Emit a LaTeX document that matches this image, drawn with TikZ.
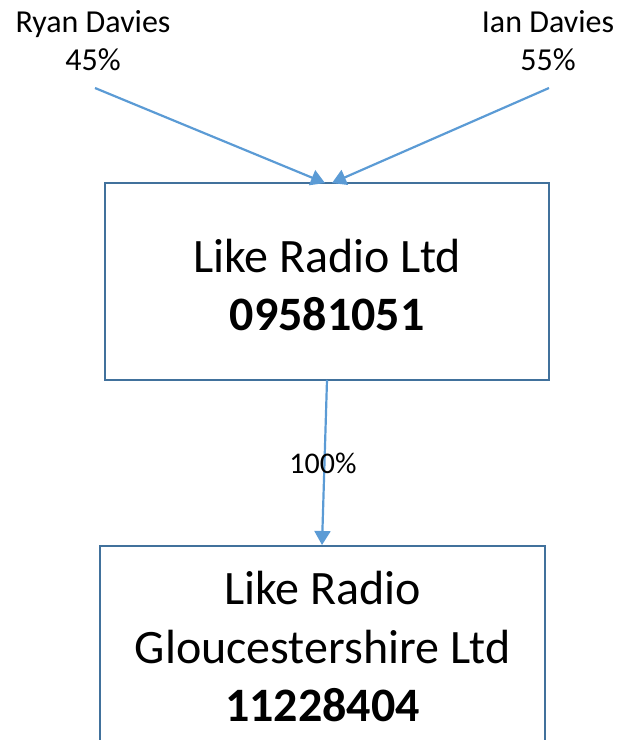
\documentclass[tikz,border=0pt]{standalone}
\usepackage{fontspec}
\setmainfont{Carlito}
\usetikzlibrary{arrows.meta}
\definecolor{linkblue}{HTML}{5B9BD5}
\definecolor{boxblue}{HTML}{41719C}
\tikzset{
  box/.style={draw=boxblue, line width=2.4pt, rectangle, inner sep=0pt},
  link/.style={draw=linkblue, line width=2.2pt, -{Triangle[length=14pt,width=16pt]}},
  owner/.style={align=center, font=\fontsize{32}{38}\selectfont, inner sep=0pt},
  boxtext/.style={align=center, font=\fontsize{48}{58.5}\selectfont, inner sep=0pt},
  pct/.style={font=\fontsize{30}{36}\selectfont, inner sep=0pt}
}
\begin{document}
\begin{tikzpicture}[x=1pt,y=-1pt]
\useasboundingbox (0,0) rectangle (620,740);
\clip (0,0) rectangle (620,740);
\node[owner] (ryan) at (93,41) {Ryan Davies\\45\%};
\node[owner] (ian) at (548,41) {Ian Davies\\55\%};
\node[box, minimum width=444pt, minimum height=197pt] (b1) at (327,281.5) {};
\node[boxtext] (t1) at (327,285) {Like Radio Ltd\\\textbf{09581051}};
\node[box, minimum width=445pt, minimum height=260pt, anchor=north] (b2) at (322.5,545) {};
\node[boxtext] (t2) at (322.5,647) {Like Radio\\Gloucestershire Ltd\\\textbf{11228404}};
\coordinate (ryanend) at (95,88);
\coordinate (ianend) at (549,88);
\coordinate (inl) at (325,183);
\coordinate (inr) at (332,183);
\coordinate (outb) at (327,380);
\coordinate (inb) at (322,545);
\draw[link] (ryanend) -- (inl);
\draw[link] (ianend) -- (inr);
\draw[link] (outb) -- (inb);
\node[pct] (p100) at (323,463) {100\%};
\end{tikzpicture}
\end{document}
